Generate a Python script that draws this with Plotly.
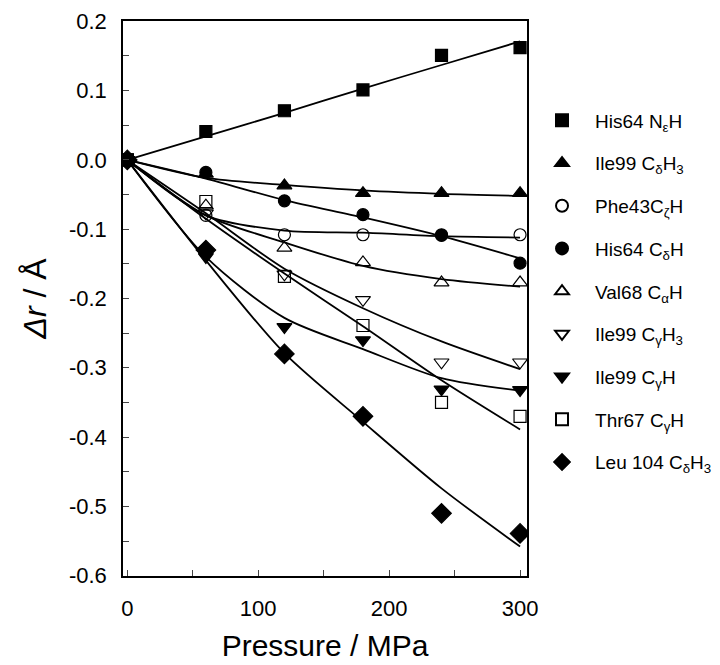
import plotly.graph_objects as go

# Pressure (MPa)
pressure = [0, 60, 120, 180, 240, 300]

# Measured Δr (Å) per residue
his64_ne = [0, 0.041, 0.071, 0.101, 0.151, 0.162]
ile99_cd = [0, -0.020, -0.037, -0.048, -0.048, -0.048]
phe43_cz = [0, -0.080, -0.108, -0.108, -0.108, -0.108]
his64_cd = [0, -0.018, -0.059, -0.079, -0.109, -0.149]
val68_ca = [0, -0.066, -0.127, -0.148, -0.177, -0.177]
ile99_cg3 = [0, -0.077, -0.165, -0.202, -0.292, -0.292]
ile99_cg = [0, -0.140, -0.241, -0.260, -0.331, -0.332]
thr67_cg = [0, -0.060, -0.168, -0.239, -0.350, -0.370]
leu104_cd = [0, -0.130, -0.280, -0.370, -0.510, -0.539]

# Fitted curves at the same pressures
fit_his64_ne = [0, 0.034, 0.068, 0.103, 0.137, 0.171]
fit_ile99_cd = [0, -0.026, -0.036, -0.044, -0.049, -0.052]
fit_phe43_cz = [0, -0.080, -0.102, -0.105, -0.110, -0.112]
fit_his64_cd = [0, -0.027, -0.058, -0.083, -0.110, -0.142]
fit_val68_ca = [0, -0.080, -0.119, -0.153, -0.172, -0.183]
fit_ile99_cg3 = [0, -0.077, -0.157, -0.214, -0.262, -0.302]
fit_ile99_cg = [0, -0.140, -0.228, -0.273, -0.315, -0.333]
fit_thr67_cg = [0, -0.085, -0.164, -0.240, -0.318, -0.389]
fit_leu104_cd = [0, -0.145, -0.279, -0.378, -0.474, -0.558]

# Tick labels
x_tickvals = [0, 100, 200, 300]
y_tickvals = [0.2, 0.1, 0.0, -0.1, -0.2, -0.3, -0.4, -0.5, -0.6]
y_ticktext = ["0.2", "0.1", "0.0", "-0.1", "-0.2", "-0.3", "-0.4", "-0.5", "-0.6"]

names = [
    "His64 N<sub>ε</sub>H",
    "Ile99 C<sub>δ</sub>H<sub>3</sub>",
    "Phe43C<sub>ζ</sub>H",
    "His64 C<sub>δ</sub>H",
    "Val68 C<sub>α</sub>H",
    "Ile99 C<sub>γ</sub>H<sub>3</sub>",
    "Ile99 C<sub>γ</sub>H",
    "Thr67 C<sub>γ</sub>H",
    "Leu 104 C<sub>δ</sub>H<sub>3</sub>",
]
series = [his64_ne, ile99_cd, phe43_cz, his64_cd, val68_ca, ile99_cg3, ile99_cg, thr67_cg, leu104_cd]
fits = [fit_his64_ne, fit_ile99_cd, fit_phe43_cz, fit_his64_cd, fit_val68_ca,
        fit_ile99_cg3, fit_ile99_cg, fit_thr67_cg, fit_leu104_cd]
symbols = ["square", "triangle-up", "circle-open", "circle", "triangle-up-open",
           "triangle-down-open", "triangle-down", "square-open", "diamond"]
sizes = [12, 13, 12, 12, 13, 13, 13, 12, 15]

fig = go.Figure()
for f in fits:
    fig.add_trace(go.Scatter(x=pressure, y=f, mode="lines", showlegend=False,
                             line=dict(color="black", width=1.8, shape="spline", smoothing=0.8),
                             hoverinfo="skip"))
for i, (nm, ys, sym, sz) in enumerate(zip(names, series, symbols, sizes)):
    fig.add_trace(go.Scatter(x=pressure, y=ys, mode="markers", name=nm,
                             legendgroup=f"g{i}",
                             marker=dict(symbol=sym, size=sz, color="black",
                                         line=dict(color="black", width=1.2))))

font_family = "Liberation Sans, Arial, sans-serif"
fig.update_layout(
    width=720, height=665,
    margin=dict(l=115, r=201, t=13, b=97, autoexpand=False),
    paper_bgcolor="white", plot_bgcolor="white",
    font=dict(family=font_family, color="black"),
    showlegend=True,
    legend=dict(x=1.005, y=0.855, xanchor="left", yanchor="top",
                font=dict(size=19, family=font_family),
                tracegroupgap=15, itemsizing="constant", itemwidth=56,
                bgcolor="rgba(0,0,0,0)"),
    xaxis=dict(range=[-3.3, 305.3], tickvals=x_tickvals, automargin=False,
               ticks="inside", ticklen=6, tickwidth=1.2, showline=True, linewidth=1.5,
               linecolor="black", mirror=True, showgrid=False, zeroline=False,
               ticklabelstandoff=12, ticklabeloverflow="allow",
               tickfont=dict(size=22), minor=dict(dtick=50, ticks="inside", ticklen=6, tickwidth=1.2),
               title=dict(text="Pressure / MPa", font=dict(size=30), standoff=15)),
    yaxis=dict(range=[-0.6005, 0.2005], tickvals=y_tickvals, ticktext=y_ticktext, automargin=False,
               ticks="inside", ticklen=6, tickwidth=1.2, showline=True, linewidth=1.5,
               linecolor="black", mirror=True, showgrid=False, zeroline=False,
               ticklabelstandoff=10, ticklabeloverflow="allow",
               tickfont=dict(size=22), minor=dict(dtick=0.05, ticks="inside", ticklen=6, tickwidth=1.2),
               title=dict(text="<i>Δr</i> / Å", font=dict(size=32), standoff=13)),
)

fig.write_html("out.html")
